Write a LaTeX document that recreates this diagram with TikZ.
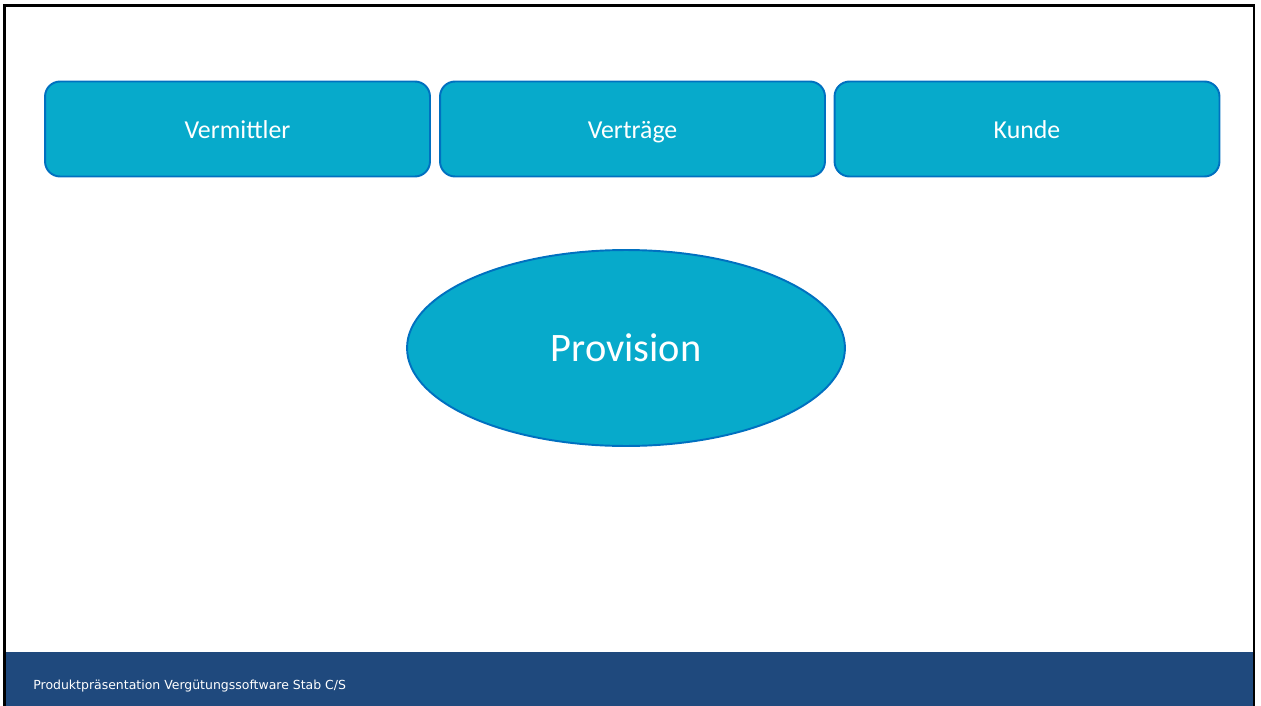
\documentclass[tikz,border=0pt]{standalone}
\usepackage{fontspec}
\setmainfont{Carlito}
\newfontfamily\footfont{DejaVu Sans}
\usetikzlibrary{shapes.geometric}
\definecolor{tile}{RGB}{7,170,203}
\definecolor{tileline}{RGB}{0,112,192}
\definecolor{band}{RGB}{31,73,125}
\tikzset{
  topic/.style={draw=tileline, fill=tile, line width=1.1pt, rounded corners=0.3cm,
    minimum width=7.7cm, minimum height=1.9cm, text=white, text height=2.5ex, text depth=.2ex,
    font=\fontsize{14.7}{17}\selectfont},
  core/.style={draw=tileline, fill=tile, line width=1.1pt, ellipse,
    minimum width=8.76cm, minimum height=3.92cm, text=white, font=\fontsize{23}{27}\selectfont}
}
\begin{document}
\begin{tikzpicture}[x=0.02cm,y=-0.02cm]
\useasboundingbox (0,0) rectangle (1261,706);
% footer band and frame
\fill[band] (5,652) rectangle (1253,706);
\draw[line width=1.2pt] (4.5,706) -- (4.5,5.5) -- (1254,5.5) -- (1254,706);
\node[anchor=west, inner sep=0pt, text=white, font=\footfont\fontsize{7.1}{9}\selectfont] (foot) at (33,686) {Produktpräsentation Vergütungssoftware Stab C/S};

\node[topic] (vermittler) at (237.5,129) {Vermittler};
\node[topic] (vertraege) at (632.5,129) {Verträge};
\node[topic] (kunde) at (1027,129) {Kunde};
\node[core] (provision) at (626,348) {Provision};
\end{tikzpicture}
\end{document}
